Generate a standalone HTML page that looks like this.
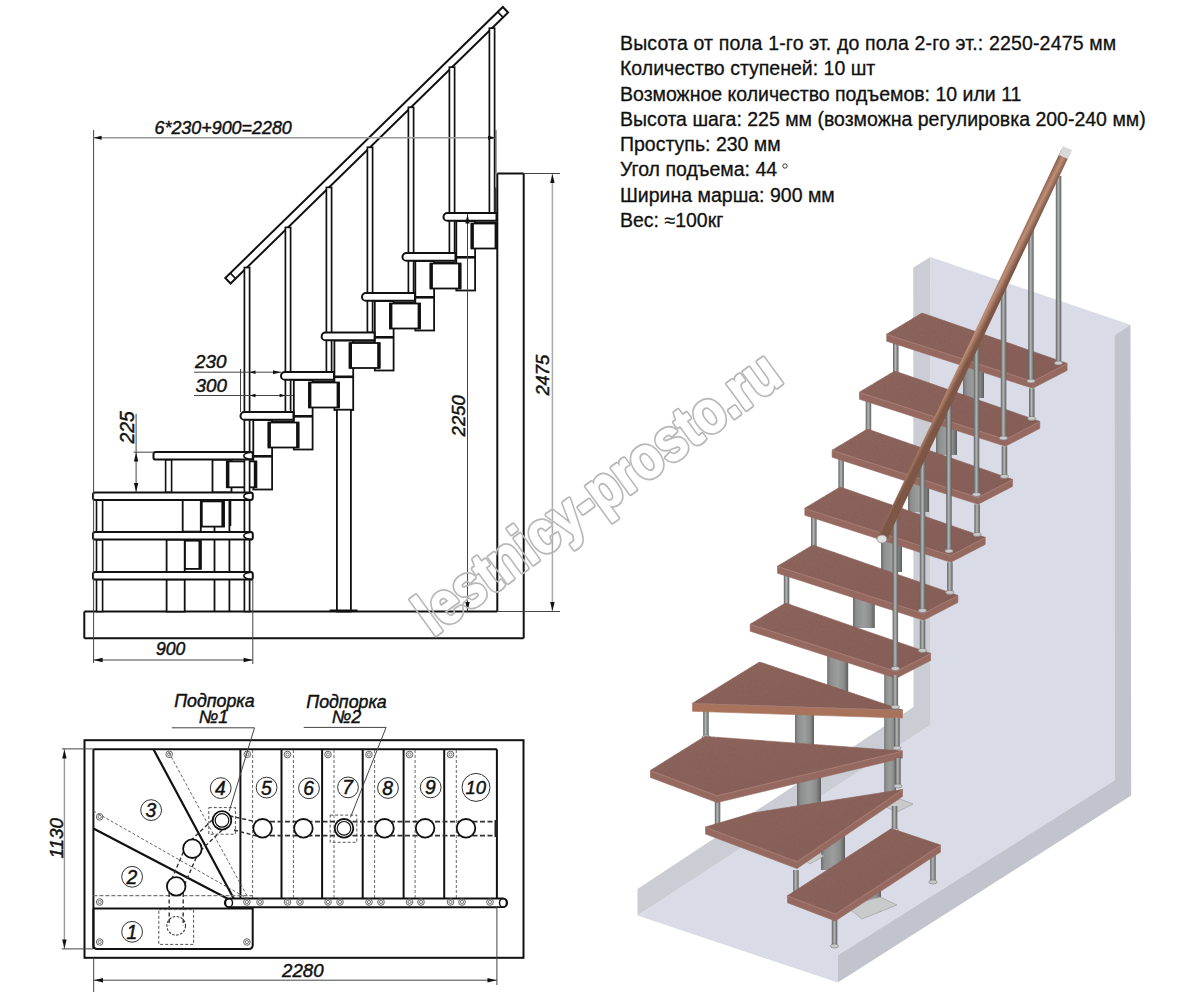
<!DOCTYPE html>
<html><head><meta charset="utf-8"><style>
html,body{margin:0;padding:0;background:#fff;overflow:hidden;width:1191px;height:993px;}
svg{display:block;}
text{font-family:"Liberation Sans",sans-serif;fill:#111;}
</style></head><body>
<svg width="1191" height="993" viewBox="0 0 1191 993">
<defs>
<linearGradient id="gcyl" x1="0" x2="1" y1="0" y2="0"><stop offset="0" stop-color="#6c6e6d"/><stop offset="0.15" stop-color="#8e908f"/><stop offset="0.5" stop-color="#9c9e9d"/><stop offset="0.8" stop-color="#8a8c8b"/><stop offset="1" stop-color="#5c5e5d"/></linearGradient>
<linearGradient id="grod" x1="0" x2="1" y1="0" y2="0"><stop offset="0" stop-color="#5c5e5e"/><stop offset="0.45" stop-color="#b5b7b7"/><stop offset="1" stop-color="#5c5e5e"/></linearGradient>
<linearGradient id="gwood" x1="0" x2="1" y1="0" y2="1"><stop offset="0" stop-color="#8f665e"/><stop offset="1" stop-color="#875e57"/></linearGradient>
<linearGradient id="ghr" gradientUnits="userSpaceOnUse" x1="1061" y1="149" x2="1071" y2="154"><stop offset="0" stop-color="#7e5646"/><stop offset="0.5" stop-color="#bf8f76"/><stop offset="1" stop-color="#7e5646"/></linearGradient>
<filter id="fwood" x="0" y="0" width="1" height="1" filterUnits="objectBoundingBox" color-interpolation-filters="sRGB">
<feTurbulence type="fractalNoise" baseFrequency="0.9 0.35" numOctaves="2" seed="3" result="n"/>
<feColorMatrix in="n" type="matrix" values="0 0 0 0 0.5  0 0 0 0 0.36  0 0 0 0 0.33  0 0 0 -1.1 0.75" result="nc"/>
<feComposite in="nc" in2="SourceGraphic" operator="in" result="nm"/>
<feMerge><feMergeNode in="SourceGraphic"/><feMergeNode in="nm"/></feMerge>
</filter>
</defs>
<rect width="1191" height="993" fill="#fff"/>
<g id="side">
<line x1="84.3" y1="611.5" x2="497.3" y2="611.5" stroke="#111" stroke-width="2" />
<line x1="84.3" y1="611.5" x2="84.3" y2="638.3" stroke="#111" stroke-width="2" />
<line x1="84.3" y1="638.3" x2="523.7" y2="638.3" stroke="#111" stroke-width="2" />
<line x1="497.3" y1="173.5" x2="497.3" y2="611.5" stroke="#111" stroke-width="2" />
<line x1="523.7" y1="173.5" x2="523.7" y2="638.3" stroke="#111" stroke-width="2" />
<line x1="497.3" y1="173.5" x2="523.7" y2="173.5" stroke="#111" stroke-width="2" />
<polygon points="230.6,283.5 508.1,12.5 502.8,7.0 225.3,278.0" fill="#fff" stroke="#111" stroke-width="2" />
<line x1="235.7" y1="278.6" x2="230.3" y2="273.1" stroke="#111" stroke-width="1.6" />
<line x1="503.1" y1="17.4" x2="497.7" y2="11.9" stroke="#111" stroke-width="1.6" />
<rect x="456.3" y="221.0" width="18.8" height="69.5" rx="0" fill="#fff" stroke="#111" stroke-width="1.8" />
<line x1="456.3" y1="257.3" x2="475.1" y2="257.3" stroke="#111" stroke-width="2.6" />
<rect x="415.3" y="261.0" width="18.8" height="69.5" rx="0" fill="#fff" stroke="#111" stroke-width="1.8" />
<line x1="415.3" y1="297.3" x2="434.1" y2="297.3" stroke="#111" stroke-width="2.6" />
<rect x="374.8" y="301.0" width="18.8" height="69.5" rx="0" fill="#fff" stroke="#111" stroke-width="1.8" />
<line x1="374.8" y1="337.3" x2="393.6" y2="337.3" stroke="#111" stroke-width="2.6" />
<rect x="334.4" y="340.5" width="18.8" height="69.5" rx="0" fill="#fff" stroke="#111" stroke-width="1.8" />
<line x1="334.4" y1="376.8" x2="353.2" y2="376.8" stroke="#111" stroke-width="2.6" />
<rect x="293.8" y="380.0" width="18.8" height="69.5" rx="0" fill="#fff" stroke="#111" stroke-width="1.8" />
<line x1="293.8" y1="416.3" x2="312.6" y2="416.3" stroke="#111" stroke-width="2.6" />
<rect x="253.3" y="420.0" width="18.8" height="69.5" rx="0" fill="#fff" stroke="#111" stroke-width="1.8" />
<line x1="253.3" y1="456.3" x2="272.1" y2="456.3" stroke="#111" stroke-width="2.6" />
<rect x="471.5" y="223.5" width="25.5" height="25.0" rx="0" fill="#fff" stroke="#111" stroke-width="1.8" />
<line x1="472.3" y1="223.5" x2="472.3" y2="248.5" stroke="#111" stroke-width="3.2" />
<line x1="496.2" y1="223.5" x2="496.2" y2="248.5" stroke="#111" stroke-width="3.2" />
<line x1="474.5" y1="222.5" x2="496.5" y2="222.5" stroke="#111" stroke-width="1.5" />
<rect x="430.5" y="263.5" width="30.0" height="25.0" rx="0" fill="#fff" stroke="#111" stroke-width="1.8" />
<line x1="431.3" y1="263.5" x2="431.3" y2="288.5" stroke="#111" stroke-width="3.2" />
<line x1="459.7" y1="263.5" x2="459.7" y2="288.5" stroke="#111" stroke-width="3.2" />
<line x1="433.5" y1="262.5" x2="455.5" y2="262.5" stroke="#111" stroke-width="1.5" />
<rect x="390.0" y="303.5" width="30.0" height="25.0" rx="0" fill="#fff" stroke="#111" stroke-width="1.8" />
<line x1="390.8" y1="303.5" x2="390.8" y2="328.5" stroke="#111" stroke-width="3.2" />
<line x1="419.2" y1="303.5" x2="419.2" y2="328.5" stroke="#111" stroke-width="3.2" />
<line x1="393.0" y1="302.5" x2="415.0" y2="302.5" stroke="#111" stroke-width="1.5" />
<rect x="349.6" y="343.0" width="30.0" height="25.0" rx="0" fill="#fff" stroke="#111" stroke-width="1.8" />
<line x1="350.4" y1="343.0" x2="350.4" y2="368.0" stroke="#111" stroke-width="3.2" />
<line x1="378.8" y1="343.0" x2="378.8" y2="368.0" stroke="#111" stroke-width="3.2" />
<line x1="352.6" y1="342.0" x2="374.6" y2="342.0" stroke="#111" stroke-width="1.5" />
<rect x="309.0" y="382.5" width="30.0" height="25.0" rx="0" fill="#fff" stroke="#111" stroke-width="1.8" />
<line x1="309.8" y1="382.5" x2="309.8" y2="407.5" stroke="#111" stroke-width="3.2" />
<line x1="338.2" y1="382.5" x2="338.2" y2="407.5" stroke="#111" stroke-width="3.2" />
<line x1="312.0" y1="381.5" x2="334.0" y2="381.5" stroke="#111" stroke-width="1.5" />
<rect x="268.5" y="422.5" width="30.0" height="25.0" rx="0" fill="#fff" stroke="#111" stroke-width="1.8" />
<line x1="269.3" y1="422.5" x2="269.3" y2="447.5" stroke="#111" stroke-width="3.2" />
<line x1="297.7" y1="422.5" x2="297.7" y2="447.5" stroke="#111" stroke-width="3.2" />
<line x1="271.5" y1="421.5" x2="293.5" y2="421.5" stroke="#111" stroke-width="1.5" />
<rect x="336.9" y="409.7" width="14.0" height="201.8" rx="0" fill="#fff" stroke="#111" stroke-width="1.8" />
<line x1="329.7" y1="610.5" x2="357.5" y2="610.5" stroke="#111" stroke-width="2" />
<line x1="214.5" y1="499.8" x2="214.5" y2="611.5" stroke="#111" stroke-width="1.8" />
<line x1="229.4" y1="499.8" x2="229.4" y2="611.5" stroke="#111" stroke-width="1.8" />
<rect x="212.5" y="459.7" width="19.0" height="32.7" rx="0" fill="#fff" stroke="#111" stroke-width="1.8" />
<rect x="226.8" y="461.4" width="29.6" height="25.9" rx="0" fill="#fff" stroke="#111" stroke-width="1.8" />
<line x1="227.8" y1="461.4" x2="227.8" y2="487.3" stroke="#111" stroke-width="3.2" />
<line x1="255.4" y1="461.4" x2="255.4" y2="487.3" stroke="#111" stroke-width="3.2" />
<rect x="182.7" y="499.8" width="18.1" height="31.8" rx="0" fill="#fff" stroke="#111" stroke-width="1.8" />
<rect x="201.8" y="501.4" width="22.2" height="25.2" rx="0" fill="#fff" stroke="#111" stroke-width="1.8" />
<line x1="223.0" y1="501.4" x2="223.0" y2="526.6" stroke="#111" stroke-width="3.2" />
<line x1="230.5" y1="499.8" x2="230.5" y2="526.0" stroke="#111" stroke-width="1.6" />
<rect x="166.6" y="539.7" width="18.1" height="32.2" rx="0" fill="#fff" stroke="#111" stroke-width="1.8" />
<rect x="185.0" y="540.7" width="15.8" height="28.2" rx="0" fill="#fff" stroke="#111" stroke-width="1.8" />
<line x1="200.0" y1="540.7" x2="200.0" y2="568.9" stroke="#111" stroke-width="3" />
<rect x="166.6" y="579.4" width="18.1" height="32.2" rx="0" fill="#fff" stroke="#111" stroke-width="1.8" />
<rect x="96.5" y="499.8" width="6.1" height="32.2" rx="0" fill="#fff" stroke="#111" stroke-width="1.6" />
<rect x="96.5" y="539.7" width="6.1" height="32.3" rx="0" fill="#fff" stroke="#111" stroke-width="1.6" />
<rect x="96.5" y="579.4" width="6.1" height="32.1" rx="0" fill="#fff" stroke="#111" stroke-width="1.6" />
<rect x="165.6" y="459.7" width="6.0" height="32.7" rx="0" fill="#fff" stroke="#111" stroke-width="1.6" />
<rect x="244.4" y="267.5" width="5.2" height="344.0" rx="0" fill="#fff" stroke="#111" stroke-width="1.7" />
<rect x="285.4" y="227.4" width="5.2" height="184.6" rx="0" fill="#fff" stroke="#111" stroke-width="1.7" />
<rect x="326.4" y="187.4" width="5.2" height="184.6" rx="0" fill="#fff" stroke="#111" stroke-width="1.7" />
<rect x="367.4" y="147.3" width="5.2" height="185.2" rx="0" fill="#fff" stroke="#111" stroke-width="1.7" />
<rect x="408.4" y="107.3" width="5.2" height="185.7" rx="0" fill="#fff" stroke="#111" stroke-width="1.7" />
<rect x="449.4" y="67.2" width="5.2" height="185.8" rx="0" fill="#fff" stroke="#111" stroke-width="1.7" />
<rect x="489.4" y="28.2" width="5.2" height="184.8" rx="0" fill="#fff" stroke="#111" stroke-width="1.7" />
<path d="M447.4 213.0 L496.5 213.0 L496.5 220.8 L447.4 220.8 A3.9 3.9 0 0 1 447.4 213.0 Z" fill="#fff" stroke="#111" stroke-width="2"/>
<path d="M406.4 253.0 L455.5 253.0 L455.5 260.8 L406.4 260.8 A3.9 3.9 0 0 1 406.4 253.0 Z" fill="#fff" stroke="#111" stroke-width="2"/>
<path d="M365.9 293.0 L415.0 293.0 L415.0 300.8 L365.9 300.8 A3.9 3.9 0 0 1 365.9 293.0 Z" fill="#fff" stroke="#111" stroke-width="2"/>
<path d="M325.5 332.5 L374.6 332.5 L374.6 340.3 L325.5 340.3 A3.9 3.9 0 0 1 325.5 332.5 Z" fill="#fff" stroke="#111" stroke-width="2"/>
<path d="M284.9 372.0 L334.0 372.0 L334.0 379.8 L284.9 379.8 A3.9 3.9 0 0 1 284.9 372.0 Z" fill="#fff" stroke="#111" stroke-width="2"/>
<path d="M244.4 412.0 L293.5 412.0 L293.5 419.8 L244.4 419.8 A3.9 3.9 0 0 1 244.4 412.0 Z" fill="#fff" stroke="#111" stroke-width="2"/>
<rect x="153.5" y="452.0" width="99.3" height="7.6" rx="2.2" fill="#fff" stroke="#111" stroke-width="2" />
<path d="M251.5 452.2 A10 3.7 0 0 0 251.5 459.4" fill="none" stroke="#111" stroke-width="1.6"/>
<rect x="93.0" y="492.4" width="159.8" height="7.6" rx="2.2" fill="#fff" stroke="#111" stroke-width="2" />
<path d="M251.5 492.6 A10 3.7 0 0 0 251.5 499.8" fill="none" stroke="#111" stroke-width="1.6"/>
<rect x="93.0" y="532.0" width="159.8" height="7.6" rx="2.2" fill="#fff" stroke="#111" stroke-width="2" />
<path d="M251.5 532.2 A10 3.7 0 0 0 251.5 539.4" fill="none" stroke="#111" stroke-width="1.6"/>
<rect x="93.0" y="572.0" width="159.8" height="7.6" rx="2.2" fill="#fff" stroke="#111" stroke-width="2" />
<path d="M251.5 572.2 A10 3.7 0 0 0 251.5 579.4" fill="none" stroke="#111" stroke-width="1.6"/>
<rect x="494.3" y="187.7" width="2.2" height="24.3" rx="0" fill="#333" stroke="#111" stroke-width="0" />
<line x1="93.6" y1="130.0" x2="93.6" y2="663.0" stroke="#444" stroke-width="1" />
<line x1="93.6" y1="137.8" x2="496.0" y2="137.8" stroke="#999" stroke-width="1.4" />
<polygon points="93.6,137.8 101.6,135.8 101.6,139.8" fill="#111" stroke="none" stroke-width="1" />
<polygon points="496.0,137.8 488.0,139.8 488.0,135.8" fill="#111" stroke="none" stroke-width="1" />
<line x1="496.0" y1="130.0" x2="496.0" y2="173.5" stroke="#444" stroke-width="1" />
<text x="154.5" y="133.6" font-size="17.9" text-anchor="start" style="font-style:italic;stroke:#111;stroke-width:0.45;"  >6*230+900=2280</text>
<line x1="467.5" y1="214.0" x2="467.5" y2="611.5" stroke="#444" stroke-width="1" />
<polygon points="467.5,214.5 469.7,223.5 465.3,223.5" fill="#111" stroke="none" stroke-width="1" />
<polygon points="467.5,611.0 465.3,602.0 469.7,602.0" fill="#111" stroke="none" stroke-width="1" />
<text x="464.8" y="436.4" font-size="18.5" text-anchor="start" style="font-style:italic;stroke:#111;stroke-width:0.45;" transform="rotate(-90 464.8 436.4)" >2250</text>
<line x1="552.4" y1="173.6" x2="552.4" y2="611.5" stroke="#aaa" stroke-width="1.5" />
<polygon points="552.4,174.0 554.6,183.0 550.2,183.0" fill="#111" stroke="none" stroke-width="1" />
<polygon points="552.4,611.0 550.2,602.0 554.6,602.0" fill="#111" stroke="none" stroke-width="1" />
<line x1="524.0" y1="173.5" x2="560.0" y2="173.5" stroke="#444" stroke-width="1" />
<line x1="497.3" y1="611.5" x2="560.0" y2="611.5" stroke="#444" stroke-width="1" />
<text x="549.3" y="395.6" font-size="18.4" text-anchor="start" style="font-style:italic;stroke:#111;stroke-width:0.45;" transform="rotate(-90 549.3 395.6)" >2475</text>
<line x1="252.8" y1="580.0" x2="252.8" y2="664.0" stroke="#444" stroke-width="1" />
<line x1="93.4" y1="660.0" x2="252.6" y2="660.0" stroke="#444" stroke-width="1" />
<polygon points="93.6,660.0 102.6,657.8 102.6,662.2" fill="#111" stroke="none" stroke-width="1" />
<polygon points="252.6,660.0 243.6,662.2 243.6,657.8" fill="#111" stroke="none" stroke-width="1" />
<text x="156.0" y="655.4" font-size="17.6" text-anchor="start" style="font-style:italic;stroke:#111;stroke-width:0.45;"  >900</text>
<line x1="194.0" y1="372.2" x2="281.6" y2="372.2" stroke="#444" stroke-width="1" />
<polygon points="281.0,372.2 273.0,374.2 273.0,370.2" fill="#111" stroke="none" stroke-width="1" />
<polygon points="249.5,372.2 255.5,370.4 255.5,374.0" fill="#111" stroke="none" stroke-width="1" />
<line x1="194.0" y1="395.5" x2="293.0" y2="395.5" stroke="#444" stroke-width="1" />
<polygon points="249.5,395.5 255.5,393.7 255.5,397.3" fill="#111" stroke="none" stroke-width="1" />
<polygon points="285.6,395.5 279.6,397.3 279.6,393.7" fill="#111" stroke="none" stroke-width="1" />
<line x1="240.5" y1="369.0" x2="240.5" y2="412.0" stroke="#444" stroke-width="1" />
<text x="195.0" y="367.8" font-size="18.8" text-anchor="start" style="font-style:italic;stroke:#111;stroke-width:0.45;"  >230</text>
<text x="195.5" y="391.6" font-size="18.8" text-anchor="start" style="font-style:italic;stroke:#111;stroke-width:0.45;"  >300</text>
<line x1="136.1" y1="413.9" x2="136.1" y2="492.4" stroke="#444" stroke-width="1" />
<polygon points="136.1,452.4 138.3,461.4 133.9,461.4" fill="#111" stroke="none" stroke-width="1" />
<polygon points="136.1,492.0 133.9,483.0 138.3,483.0" fill="#111" stroke="none" stroke-width="1" />
<line x1="133.6" y1="452.2" x2="153.7" y2="452.2" stroke="#444" stroke-width="1" />
<text x="133.6" y="443.5" font-size="19.3" text-anchor="start" style="font-style:italic;stroke:#111;stroke-width:0.45;" transform="rotate(-90 133.6 443.5)" >225</text>
</g>
<g id="plan">
<rect x="84.5" y="740.2" width="439.0" height="217.6" rx="0" fill="none" stroke="#111" stroke-width="2" />
<line x1="93.4" y1="749.3" x2="496.9" y2="749.3" stroke="#111" stroke-width="2" />
<line x1="93.4" y1="749.3" x2="93.4" y2="949.0" stroke="#111" stroke-width="2" />
<path d="M93.4 908.4 L93.4 945 Q93.4 949 97.4 949 L248.7 949 Q252.7 949 252.7 945 L252.7 907" fill="none" stroke="#111" stroke-width="2"/>
<line x1="93.4" y1="908.4" x2="252.7" y2="908.4" stroke="#111" stroke-width="2" />
<line x1="496.9" y1="749.3" x2="496.9" y2="907.2" stroke="#111" stroke-width="2" />
<line x1="252.7" y1="907.2" x2="496.9" y2="907.2" stroke="#111" stroke-width="2" />
<line x1="93.4" y1="828.5" x2="233.0" y2="901.5" stroke="#111" stroke-width="2.2" />
<line x1="153.7" y1="749.7" x2="235.3" y2="901.5" stroke="#111" stroke-width="2.2" />
<line x1="240.4" y1="749.3" x2="240.4" y2="907.2" stroke="#111" stroke-width="2" />
<line x1="281.5" y1="749.3" x2="281.5" y2="907.2" stroke="#111" stroke-width="2" />
<line x1="322.1" y1="749.3" x2="322.1" y2="907.2" stroke="#111" stroke-width="2" />
<line x1="362.7" y1="749.3" x2="362.7" y2="907.2" stroke="#111" stroke-width="2" />
<line x1="403.6" y1="749.3" x2="403.6" y2="907.2" stroke="#111" stroke-width="2" />
<line x1="444.2" y1="749.3" x2="444.2" y2="907.2" stroke="#111" stroke-width="2" />
<line x1="252.6" y1="750.0" x2="252.6" y2="906.0" stroke="#555" stroke-width="0.9" stroke-dasharray="3,2"/>
<line x1="293.4" y1="750.0" x2="293.4" y2="906.0" stroke="#555" stroke-width="0.9" stroke-dasharray="3,2"/>
<line x1="334.0" y1="750.0" x2="334.0" y2="906.0" stroke="#555" stroke-width="0.9" stroke-dasharray="3,2"/>
<line x1="374.6" y1="750.0" x2="374.6" y2="906.0" stroke="#555" stroke-width="0.9" stroke-dasharray="3,2"/>
<line x1="415.1" y1="750.0" x2="415.1" y2="906.0" stroke="#555" stroke-width="0.9" stroke-dasharray="3,2"/>
<line x1="456.3" y1="750.0" x2="456.3" y2="906.0" stroke="#555" stroke-width="0.9" stroke-dasharray="3,2"/>
<line x1="168.9" y1="752.5" x2="252.0" y2="905.0" stroke="#555" stroke-width="0.9" stroke-dasharray="3,2"/>
<line x1="93.4" y1="811.0" x2="250.0" y2="900.0" stroke="#555" stroke-width="0.9" stroke-dasharray="3,2"/>
<line x1="93.4" y1="895.7" x2="252.6" y2="895.7" stroke="#777" stroke-width="1.3" stroke-dasharray="4,2"/>
<line x1="255.0" y1="821.6" x2="496.9" y2="821.6" stroke="#333" stroke-width="1.6" stroke-dasharray="5,2.5"/>
<line x1="255.0" y1="835.6" x2="496.9" y2="835.6" stroke="#333" stroke-width="1.6" stroke-dasharray="5,2.5"/>
<line x1="229.5" y1="815.8" x2="255.0" y2="821.6" stroke="#333" stroke-width="1.5" stroke-dasharray="4,2.5"/>
<line x1="234.0" y1="830.0" x2="255.0" y2="835.6" stroke="#333" stroke-width="1.5" stroke-dasharray="4,2.5"/>
<rect x="494.5" y="820" width="3" height="17" fill="#222"/>
<line x1="226.8" y1="825.5" x2="197.2" y2="853.8" stroke="#333" stroke-width="1.4" stroke-dasharray="4,2.5"/>
<line x1="217.2" y1="815.3" x2="187.6" y2="843.6" stroke="#333" stroke-width="1.4" stroke-dasharray="4,2.5"/>
<line x1="198.8" y1="851.5" x2="182.6" y2="889.2" stroke="#333" stroke-width="1.4" stroke-dasharray="4,2.5"/>
<line x1="186.0" y1="845.9" x2="169.8" y2="883.6" stroke="#333" stroke-width="1.4" stroke-dasharray="4,2.5"/>
<line x1="183.2" y1="886.4" x2="183.2" y2="925.8" stroke="#333" stroke-width="1.4" stroke-dasharray="4,2.5"/>
<line x1="169.2" y1="886.4" x2="169.2" y2="925.8" stroke="#333" stroke-width="1.4" stroke-dasharray="4,2.5"/>
<circle cx="262.6" cy="828.3" r="9.3" fill="#fff" stroke="#111" stroke-width="1.8" />
<circle cx="303.4" cy="828.3" r="9.3" fill="#fff" stroke="#111" stroke-width="1.8" />
<circle cx="384.5" cy="828.3" r="9.3" fill="#fff" stroke="#111" stroke-width="1.8" />
<circle cx="425.1" cy="828.3" r="9.3" fill="#fff" stroke="#111" stroke-width="1.8" />
<circle cx="466.0" cy="828.3" r="9.3" fill="#fff" stroke="#111" stroke-width="1.8" />
<circle cx="344.0" cy="828.3" r="9.3" fill="#fff" stroke="#111" stroke-width="1.8" />
<circle cx="344.0" cy="828.3" r="6.8" fill="none" stroke="#111" stroke-width="1.2" />
<circle cx="222.0" cy="820.4" r="9.3" fill="#fff" stroke="#111" stroke-width="1.8" />
<circle cx="222.0" cy="820.4" r="6.8" fill="none" stroke="#111" stroke-width="1.2" />
<circle cx="192.4" cy="848.7" r="9.3" fill="#fff" stroke="#111" stroke-width="1.8" />
<circle cx="176.2" cy="886.4" r="9.3" fill="#fff" stroke="#111" stroke-width="1.8" />
<circle cx="176.2" cy="925.8" r="9.3" fill="none" stroke="#333" stroke-width="1.1" stroke-dasharray="2.5,1.5"/>
<rect x="208.8" y="807.6" width="26.6" height="26.6" rx="0" fill="none" stroke="#555" stroke-width="1" stroke-dasharray="3,2"/>
<rect x="330.2" y="815.1" width="26.6" height="27.2" rx="0" fill="none" stroke="#555" stroke-width="1" stroke-dasharray="3,2"/>
<rect x="158.8" y="909.6" width="34.8" height="34.8" rx="0" fill="none" stroke="#555" stroke-width="1" stroke-dasharray="3,2"/>
<rect x="224.8" y="898.5" width="282.4" height="8.7" rx="4.3" fill="#fff" stroke="#111" stroke-width="1.8"/>
<ellipse cx="503" cy="902.85" rx="3.5" ry="4.3" fill="none" stroke="#111" stroke-width="1.4"/>
<ellipse cx="229" cy="902.85" rx="3.5" ry="4.3" fill="none" stroke="#111" stroke-width="1.4"/>
<circle cx="99.7" cy="902.0" r="3.3" fill="none" stroke="#555" stroke-width="0.9" />
<circle cx="99.7" cy="902.0" r="1.6" fill="none" stroke="#555" stroke-width="0.8" />
<circle cx="99.7" cy="942.0" r="3.3" fill="none" stroke="#555" stroke-width="0.9" />
<circle cx="99.7" cy="942.0" r="1.6" fill="none" stroke="#555" stroke-width="0.8" />
<circle cx="246.9" cy="942.0" r="3.3" fill="none" stroke="#555" stroke-width="0.9" />
<circle cx="246.9" cy="942.0" r="1.6" fill="none" stroke="#555" stroke-width="0.8" />
<circle cx="169.2" cy="754.3" r="3.3" fill="none" stroke="#555" stroke-width="0.9" />
<circle cx="169.2" cy="754.3" r="1.6" fill="none" stroke="#555" stroke-width="0.8" />
<circle cx="99.7" cy="816.9" r="3.3" fill="none" stroke="#555" stroke-width="0.9" />
<circle cx="99.7" cy="816.9" r="1.6" fill="none" stroke="#555" stroke-width="0.8" />
<circle cx="247.3" cy="754.3" r="3.3" fill="none" stroke="#555" stroke-width="0.9" />
<circle cx="247.3" cy="754.3" r="1.6" fill="none" stroke="#555" stroke-width="0.8" />
<circle cx="246.9" cy="902.0" r="3.3" fill="none" stroke="#555" stroke-width="0.9" />
<circle cx="246.9" cy="902.0" r="1.6" fill="none" stroke="#555" stroke-width="0.8" />
<circle cx="287.5" cy="754.5" r="3.3" fill="none" stroke="#555" stroke-width="0.9" />
<circle cx="287.5" cy="754.5" r="1.6" fill="none" stroke="#555" stroke-width="0.8" />
<circle cx="287.5" cy="902.0" r="3.3" fill="none" stroke="#555" stroke-width="0.9" />
<circle cx="287.5" cy="902.0" r="1.6" fill="none" stroke="#555" stroke-width="0.8" />
<circle cx="328.0" cy="754.5" r="3.3" fill="none" stroke="#555" stroke-width="0.9" />
<circle cx="328.0" cy="754.5" r="1.6" fill="none" stroke="#555" stroke-width="0.8" />
<circle cx="328.0" cy="902.0" r="3.3" fill="none" stroke="#555" stroke-width="0.9" />
<circle cx="328.0" cy="902.0" r="1.6" fill="none" stroke="#555" stroke-width="0.8" />
<circle cx="369.0" cy="754.5" r="3.3" fill="none" stroke="#555" stroke-width="0.9" />
<circle cx="369.0" cy="754.5" r="1.6" fill="none" stroke="#555" stroke-width="0.8" />
<circle cx="369.0" cy="902.0" r="3.3" fill="none" stroke="#555" stroke-width="0.9" />
<circle cx="369.0" cy="902.0" r="1.6" fill="none" stroke="#555" stroke-width="0.8" />
<circle cx="409.5" cy="754.5" r="3.3" fill="none" stroke="#555" stroke-width="0.9" />
<circle cx="409.5" cy="754.5" r="1.6" fill="none" stroke="#555" stroke-width="0.8" />
<circle cx="409.5" cy="902.0" r="3.3" fill="none" stroke="#555" stroke-width="0.9" />
<circle cx="409.5" cy="902.0" r="1.6" fill="none" stroke="#555" stroke-width="0.8" />
<circle cx="450.5" cy="754.5" r="3.3" fill="none" stroke="#555" stroke-width="0.9" />
<circle cx="450.5" cy="754.5" r="1.6" fill="none" stroke="#555" stroke-width="0.8" />
<circle cx="450.5" cy="902.0" r="3.3" fill="none" stroke="#555" stroke-width="0.9" />
<circle cx="450.5" cy="902.0" r="1.6" fill="none" stroke="#555" stroke-width="0.8" />
<circle cx="260.0" cy="902.0" r="3.3" fill="none" stroke="#555" stroke-width="0.9" />
<circle cx="260.0" cy="902.0" r="1.6" fill="none" stroke="#555" stroke-width="0.8" />
<circle cx="300.0" cy="902.0" r="3.3" fill="none" stroke="#555" stroke-width="0.9" />
<circle cx="300.0" cy="902.0" r="1.6" fill="none" stroke="#555" stroke-width="0.8" />
<circle cx="340.0" cy="902.0" r="3.3" fill="none" stroke="#555" stroke-width="0.9" />
<circle cx="340.0" cy="902.0" r="1.6" fill="none" stroke="#555" stroke-width="0.8" />
<circle cx="381.0" cy="902.0" r="3.3" fill="none" stroke="#555" stroke-width="0.9" />
<circle cx="381.0" cy="902.0" r="1.6" fill="none" stroke="#555" stroke-width="0.8" />
<circle cx="421.0" cy="902.0" r="3.3" fill="none" stroke="#555" stroke-width="0.9" />
<circle cx="421.0" cy="902.0" r="1.6" fill="none" stroke="#555" stroke-width="0.8" />
<circle cx="462.0" cy="902.0" r="3.3" fill="none" stroke="#555" stroke-width="0.9" />
<circle cx="462.0" cy="902.0" r="1.6" fill="none" stroke="#555" stroke-width="0.8" />
<circle cx="490.0" cy="902.0" r="3.3" fill="none" stroke="#555" stroke-width="0.9" />
<circle cx="490.0" cy="902.0" r="1.6" fill="none" stroke="#555" stroke-width="0.8" />
<circle cx="132.1" cy="931.8" r="10.4" fill="#fff" stroke="#333" stroke-width="1.0" />
<text x="131.8" y="938.8" font-size="19.3" text-anchor="middle" style="font-style:italic;stroke:#111;stroke-width:0.45;"  >1</text>
<circle cx="132.1" cy="876.8" r="10.4" fill="#fff" stroke="#333" stroke-width="1.0" />
<text x="131.8" y="883.8" font-size="19.3" text-anchor="middle" style="font-style:italic;stroke:#111;stroke-width:0.45;"  >2</text>
<circle cx="151.1" cy="810.1" r="10.4" fill="#fff" stroke="#333" stroke-width="1.0" />
<text x="150.8" y="817.1" font-size="19.3" text-anchor="middle" style="font-style:italic;stroke:#111;stroke-width:0.45;"  >3</text>
<circle cx="220.7" cy="788.1" r="10.4" fill="#fff" stroke="#333" stroke-width="1.0" />
<text x="220.4" y="795.1" font-size="19.3" text-anchor="middle" style="font-style:italic;stroke:#111;stroke-width:0.45;"  >4</text>
<circle cx="266.6" cy="787.6" r="10.4" fill="#fff" stroke="#333" stroke-width="1.0" />
<text x="266.3" y="794.6" font-size="19.3" text-anchor="middle" style="font-style:italic;stroke:#111;stroke-width:0.45;"  >5</text>
<circle cx="309.0" cy="788.3" r="10.4" fill="#fff" stroke="#333" stroke-width="1.0" />
<text x="308.7" y="795.3" font-size="19.3" text-anchor="middle" style="font-style:italic;stroke:#111;stroke-width:0.45;"  >6</text>
<circle cx="348.0" cy="787.4" r="10.4" fill="#fff" stroke="#333" stroke-width="1.0" />
<text x="347.7" y="794.4" font-size="19.3" text-anchor="middle" style="font-style:italic;stroke:#111;stroke-width:0.45;"  >7</text>
<circle cx="388.0" cy="788.0" r="10.4" fill="#fff" stroke="#333" stroke-width="1.0" />
<text x="387.7" y="795.0" font-size="19.3" text-anchor="middle" style="font-style:italic;stroke:#111;stroke-width:0.45;"  >8</text>
<circle cx="430.7" cy="787.4" r="10.4" fill="#fff" stroke="#333" stroke-width="1.0" />
<text x="430.4" y="794.4" font-size="19.3" text-anchor="middle" style="font-style:italic;stroke:#111;stroke-width:0.45;"  >9</text>
<circle cx="476.0" cy="787.4" r="14.0" fill="#fff" stroke="#333" stroke-width="1.0" />
<text x="475.7" y="794.4" font-size="18.5" text-anchor="middle" style="font-style:italic;stroke:#111;stroke-width:0.45;"  >10</text>
<line x1="171.9" y1="727.8" x2="254.5" y2="727.8" stroke="#444" stroke-width="1" />
<line x1="254.5" y1="727.8" x2="229.3" y2="811.0" stroke="#444" stroke-width="1" />
<line x1="303.7" y1="727.4" x2="386.1" y2="727.4" stroke="#444" stroke-width="1" />
<line x1="386.1" y1="727.4" x2="350.5" y2="817.3" stroke="#444" stroke-width="1" />
<text x="214.4" y="706.8" font-size="17.8" text-anchor="middle" style="font-style:italic;stroke:#111;stroke-width:0.45;"  >Подпорка</text>
<text x="213.6" y="722.7" font-size="18" text-anchor="middle" style="font-style:italic;stroke:#111;stroke-width:0.45;"  >№1</text>
<text x="346.5" y="707.5" font-size="17.8" text-anchor="middle" style="font-style:italic;stroke:#111;stroke-width:0.45;"  >Подпорка</text>
<text x="346.5" y="723.0" font-size="18" text-anchor="middle" style="font-style:italic;stroke:#111;stroke-width:0.45;"  >№2</text>
<line x1="64.4" y1="748.9" x2="64.4" y2="948.9" stroke="#999" stroke-width="1.4" />
<polygon points="64.4,749.5 66.6,758.5 62.2,758.5" fill="#111" stroke="none" stroke-width="1" />
<polygon points="64.4,948.5 62.2,939.5 66.6,939.5" fill="#111" stroke="none" stroke-width="1" />
<line x1="61.8" y1="748.9" x2="93.4" y2="748.9" stroke="#444" stroke-width="1" />
<line x1="61.8" y1="948.9" x2="93.4" y2="948.9" stroke="#444" stroke-width="1" />
<text x="63.1" y="858.5" font-size="18.8" text-anchor="start" style="font-style:italic;stroke:#111;stroke-width:0.45;" transform="rotate(-90 63.1 858.5)" >1130</text>
<line x1="93.7" y1="957.8" x2="93.7" y2="992.0" stroke="#444" stroke-width="1" />
<line x1="496.9" y1="907.0" x2="496.9" y2="985.0" stroke="#444" stroke-width="1" />
<line x1="93.7" y1="980.2" x2="496.9" y2="980.2" stroke="#444" stroke-width="1" />
<polygon points="94.0,980.2 103.0,978.0 103.0,982.4" fill="#111" stroke="none" stroke-width="1" />
<polygon points="496.5,980.2 487.5,982.4 487.5,978.0" fill="#111" stroke="none" stroke-width="1" />
<text x="282.0" y="977.2" font-size="18.7" text-anchor="start" style="font-style:italic;stroke:#111;stroke-width:0.45;"  >2280</text>
</g>
<g id="scene3d">
<polygon points="930.3,257.1 1130.5,324.7 1114.4,335.3 1114.7,780.3 837.8,955.3 837.8,982.6 637.5,915.5 930.6,725.0" fill="#d9dbe6" stroke="none" stroke-width="1" />
<polygon points="1114.4,335.3 1130.5,324.7 1131.2,795.6 837.8,982.6 837.8,955.3 1114.7,780.3" fill="#c2c4cd" stroke="none" stroke-width="1" />
<polygon points="913.2,267.7 930.3,257.1 930.6,725.0 637.5,915.5 637.5,889.0 913.5,707.0" fill="#cbcdd4" stroke="none" stroke-width="1" />
<rect x="963.0" y="341.0" width="21.0" height="57.0" fill="url(#gcyl)"/>
<rect x="936.0" y="399.0" width="21.0" height="56.0" fill="url(#gcyl)"/>
<rect x="908.0" y="456.0" width="21.0" height="56.0" fill="url(#gcyl)"/>
<rect x="881.0" y="513.0" width="21.0" height="59.0" fill="url(#gcyl)"/>
<rect x="853.0" y="570.0" width="21.8" height="58.0" fill="url(#gcyl)"/>
<rect x="827.2" y="628.0" width="21.0" height="64.0" fill="url(#gcyl)"/>
<rect x="884.2" y="655.0" width="11.8" height="151.0" fill="url(#gcyl)"/>
<rect x="795.0" y="700.0" width="19.0" height="45.0" fill="url(#gcyl)"/>
<rect x="797.0" y="770.0" width="24.0" height="70.0" fill="url(#gcyl)"/>
<rect x="821.0" y="822.0" width="24.0" height="48.0" fill="url(#gcyl)"/>
<rect x="860.0" y="880.0" width="21.0" height="32.0" fill="url(#gcyl)"/>
<polygon points="846.0,906.0 880.0,897.0 897.0,905.0 862.0,919.0" fill="#c9cbcb" stroke="#999" stroke-width="0.6" />
<polygon points="884.0,806.0 900.0,799.0 913.0,804.0 897.0,812.0" fill="#c9cbcb" stroke="#999" stroke-width="0.6" />
<polygon points="802.0,858.0 815.0,851.0 824.0,856.0 810.0,864.0" fill="#c9cbcb" stroke="#999" stroke-width="0.6" />
<rect x="893.0" y="341.2" width="5.5" height="37.8" fill="url(#grod)"/>
<ellipse cx="895.7" cy="379.0" rx="4.1" ry="2" fill="#c9cbcb" stroke="#777" stroke-width="0.6"/>
<polygon points="886.7,334.2 1032.7,381.3 1032.7,388.3 886.7,341.2" fill="#95695f" stroke="#95695f" stroke-width="0.6" />
<polygon points="1032.7,381.3 1067.1,363.4 1067.1,370.4 1032.7,388.3" fill="#95695f" stroke="#95695f" stroke-width="0.6" />
<polygon points="886.7,334.2 922.0,313.0 1067.1,363.4 1032.7,381.3" fill="url(#gwood)" stroke="url(#gwood)" stroke-width="0.6" filter="url(#fwood)"/>
<line x1="886.7" y1="334.5" x2="1032.7" y2="381.6" stroke="#a97f76" stroke-width="0.9" />
<line x1="1032.7" y1="381.6" x2="1067.1" y2="363.7" stroke="#a97f76" stroke-width="0.9" />
<rect x="865.7" y="399.2" width="5.5" height="37.8" fill="url(#grod)"/>
<ellipse cx="868.4" cy="437.0" rx="4.1" ry="2" fill="#c9cbcb" stroke="#777" stroke-width="0.6"/>
<polygon points="859.4,392.2 1005.4,439.3 1005.4,446.3 859.4,399.2" fill="#95695f" stroke="#95695f" stroke-width="0.6" />
<polygon points="1005.4,439.3 1039.8,421.4 1039.8,428.4 1005.4,446.3" fill="#95695f" stroke="#95695f" stroke-width="0.6" />
<polygon points="859.4,392.2 894.7,371.0 1039.8,421.4 1005.4,439.3" fill="url(#gwood)" stroke="url(#gwood)" stroke-width="0.6" filter="url(#fwood)"/>
<line x1="859.4" y1="392.5" x2="1005.4" y2="439.6" stroke="#a97f76" stroke-width="0.9" />
<line x1="1005.4" y1="439.6" x2="1039.8" y2="421.7" stroke="#a97f76" stroke-width="0.9" />
<rect x="838.4" y="457.2" width="5.5" height="37.8" fill="url(#grod)"/>
<ellipse cx="841.1" cy="495.0" rx="4.1" ry="2" fill="#c9cbcb" stroke="#777" stroke-width="0.6"/>
<polygon points="832.1,450.2 978.1,497.3 978.1,504.3 832.1,457.2" fill="#95695f" stroke="#95695f" stroke-width="0.6" />
<polygon points="978.1,497.3 1012.5,479.4 1012.5,486.4 978.1,504.3" fill="#95695f" stroke="#95695f" stroke-width="0.6" />
<polygon points="832.1,450.2 867.4,429.0 1012.5,479.4 978.1,497.3" fill="url(#gwood)" stroke="url(#gwood)" stroke-width="0.6" filter="url(#fwood)"/>
<line x1="832.1" y1="450.5" x2="978.1" y2="497.6" stroke="#a97f76" stroke-width="0.9" />
<line x1="978.1" y1="497.6" x2="1012.5" y2="479.7" stroke="#a97f76" stroke-width="0.9" />
<rect x="811.1" y="515.2" width="5.5" height="37.8" fill="url(#grod)"/>
<ellipse cx="813.8" cy="553.0" rx="4.1" ry="2" fill="#c9cbcb" stroke="#777" stroke-width="0.6"/>
<polygon points="804.8,508.2 950.8,555.3 950.8,562.3 804.8,515.2" fill="#95695f" stroke="#95695f" stroke-width="0.6" />
<polygon points="950.8,555.3 985.2,537.4 985.2,544.4 950.8,562.3" fill="#95695f" stroke="#95695f" stroke-width="0.6" />
<polygon points="804.8,508.2 840.1,487.0 985.2,537.4 950.8,555.3" fill="url(#gwood)" stroke="url(#gwood)" stroke-width="0.6" filter="url(#fwood)"/>
<line x1="804.8" y1="508.5" x2="950.8" y2="555.6" stroke="#a97f76" stroke-width="0.9" />
<line x1="950.8" y1="555.6" x2="985.2" y2="537.7" stroke="#a97f76" stroke-width="0.9" />
<rect x="783.8" y="573.2" width="5.5" height="37.8" fill="url(#grod)"/>
<ellipse cx="786.5" cy="611.0" rx="4.1" ry="2" fill="#c9cbcb" stroke="#777" stroke-width="0.6"/>
<polygon points="777.5,566.2 923.5,613.3 923.5,620.3 777.5,573.2" fill="#95695f" stroke="#95695f" stroke-width="0.6" />
<polygon points="923.5,613.3 957.9,595.4 957.9,602.4 923.5,620.3" fill="#95695f" stroke="#95695f" stroke-width="0.6" />
<polygon points="777.5,566.2 812.8,545.0 957.9,595.4 923.5,613.3" fill="url(#gwood)" stroke="url(#gwood)" stroke-width="0.6" filter="url(#fwood)"/>
<line x1="777.5" y1="566.5" x2="923.5" y2="613.6" stroke="#a97f76" stroke-width="0.9" />
<line x1="923.5" y1="613.6" x2="957.9" y2="595.7" stroke="#a97f76" stroke-width="0.9" />
<polygon points="750.2,624.2 896.2,671.3 896.2,678.3 750.2,631.2" fill="#95695f" stroke="#95695f" stroke-width="0.6" />
<polygon points="896.2,671.3 930.6,653.4 930.6,660.4 896.2,678.3" fill="#95695f" stroke="#95695f" stroke-width="0.6" />
<polygon points="750.2,624.2 785.5,603.0 930.6,653.4 896.2,671.3" fill="url(#gwood)" stroke="url(#gwood)" stroke-width="0.6" filter="url(#fwood)"/>
<line x1="750.2" y1="624.5" x2="896.2" y2="671.6" stroke="#a97f76" stroke-width="0.9" />
<line x1="896.2" y1="671.6" x2="930.6" y2="653.7" stroke="#a97f76" stroke-width="0.9" />
<rect x="703.2" y="709.0" width="5.5" height="28.0" fill="url(#grod)"/>
<ellipse cx="706.0" cy="737.0" rx="4.1" ry="2" fill="#c9cbcb" stroke="#777" stroke-width="0.6"/>
<polygon points="692.5,703.3 902.5,710.1 902.5,718.1 692.5,711.3" fill="#a8735a" stroke="#a8735a" stroke-width="0.6" />
<polygon points="692.5,703.3 759.5,662.0 902.5,710.1" fill="url(#gwood)" stroke="url(#gwood)" stroke-width="0.6" filter="url(#fwood)"/>
<line x1="692.5" y1="703.6" x2="902.5" y2="710.4" stroke="#a97f76" stroke-width="0.9" />
<rect x="714.8" y="797.0" width="5.5" height="29.0" fill="url(#grod)"/>
<ellipse cx="717.5" cy="826.0" rx="4.1" ry="2" fill="#c9cbcb" stroke="#777" stroke-width="0.6"/>
<polygon points="650.4,770.4 717.1,795.6 717.1,802.6 650.4,777.4" fill="#95695f" stroke="#95695f" stroke-width="0.6" />
<polygon points="717.1,795.6 902.4,751.0 902.4,758.0 717.1,802.6" fill="#95695f" stroke="#95695f" stroke-width="0.6" />
<polygon points="650.4,770.4 704.8,736.4 902.4,751.0 717.1,795.6" fill="url(#gwood)" stroke="url(#gwood)" stroke-width="0.6" filter="url(#fwood)"/>
<line x1="650.4" y1="770.7" x2="717.1" y2="795.9" stroke="#a97f76" stroke-width="0.9" />
<line x1="717.1" y1="795.9" x2="902.4" y2="751.3" stroke="#a97f76" stroke-width="0.9" />
<rect x="793.2" y="870.0" width="5.5" height="30.0" fill="url(#grod)"/>
<ellipse cx="796.0" cy="900.0" rx="4.1" ry="2" fill="#c9cbcb" stroke="#777" stroke-width="0.6"/>
<rect x="891.8" y="806.0" width="5.5" height="24.0" fill="url(#grod)"/>
<ellipse cx="894.5" cy="830.0" rx="4.1" ry="2" fill="#c9cbcb" stroke="#777" stroke-width="0.6"/>
<polygon points="705.5,827.0 797.0,861.6 797.0,868.6 705.5,834.0" fill="#95695f" stroke="#95695f" stroke-width="0.6" />
<polygon points="797.0,861.6 902.5,789.5 902.5,796.5 797.0,868.6" fill="#95695f" stroke="#95695f" stroke-width="0.6" />
<polygon points="705.5,827.0 753.6,812.8 902.5,789.5 797.0,861.6" fill="url(#gwood)" stroke="url(#gwood)" stroke-width="0.6" filter="url(#fwood)"/>
<line x1="705.5" y1="827.3" x2="797.0" y2="861.9" stroke="#a97f76" stroke-width="0.9" />
<line x1="797.0" y1="861.9" x2="902.5" y2="789.8" stroke="#a97f76" stroke-width="0.9" />
<rect x="831.8" y="920.0" width="5.5" height="26.0" fill="url(#grod)"/>
<ellipse cx="834.5" cy="946.0" rx="4.1" ry="2" fill="#c9cbcb" stroke="#777" stroke-width="0.6"/>
<rect x="930.2" y="851.0" width="5.5" height="31.0" fill="url(#grod)"/>
<ellipse cx="933.0" cy="882.0" rx="4.1" ry="2" fill="#c9cbcb" stroke="#777" stroke-width="0.6"/>
<polygon points="787.5,895.7 835.3,914.0 835.3,921.0 787.5,902.7" fill="#95695f" stroke="#95695f" stroke-width="0.6" />
<polygon points="835.3,914.0 940.5,845.1 940.5,852.1 835.3,921.0" fill="#95695f" stroke="#95695f" stroke-width="0.6" />
<polygon points="787.5,895.7 891.5,828.6 940.5,845.1 835.3,914.0" fill="url(#gwood)" stroke="url(#gwood)" stroke-width="0.6" filter="url(#fwood)"/>
<line x1="787.5" y1="896.0" x2="835.3" y2="914.3" stroke="#a97f76" stroke-width="0.9" />
<line x1="835.3" y1="914.3" x2="940.5" y2="845.4" stroke="#a97f76" stroke-width="0.9" />
<rect x="1055.8" y="176.0" width="5.5" height="187.0" fill="url(#grod)"/>
<ellipse cx="1058.5" cy="363.0" rx="4.1" ry="2" fill="#c9cbcb" stroke="#777" stroke-width="0.6"/>
<rect x="1028.2" y="224.8" width="5.5" height="156.2" fill="url(#grod)"/>
<ellipse cx="1031.0" cy="381.0" rx="4.1" ry="2" fill="#c9cbcb" stroke="#777" stroke-width="0.6"/>
<rect x="1000.8" y="282.8" width="5.5" height="155.2" fill="url(#grod)"/>
<ellipse cx="1003.5" cy="438.0" rx="4.1" ry="2" fill="#c9cbcb" stroke="#777" stroke-width="0.6"/>
<rect x="973.8" y="339.7" width="5.5" height="154.8" fill="url(#grod)"/>
<ellipse cx="976.5" cy="494.5" rx="4.1" ry="2" fill="#c9cbcb" stroke="#777" stroke-width="0.6"/>
<rect x="946.2" y="397.7" width="5.5" height="153.3" fill="url(#grod)"/>
<ellipse cx="949.0" cy="551.0" rx="4.1" ry="2" fill="#c9cbcb" stroke="#777" stroke-width="0.6"/>
<rect x="919.8" y="453.6" width="5.5" height="156.9" fill="url(#grod)"/>
<ellipse cx="922.5" cy="610.5" rx="4.1" ry="2" fill="#c9cbcb" stroke="#777" stroke-width="0.6"/>
<rect x="892.6" y="510.7" width="5.5" height="157.8" fill="url(#grod)"/>
<ellipse cx="895.4" cy="668.5" rx="4.1" ry="2" fill="#c9cbcb" stroke="#777" stroke-width="0.6"/>
<rect x="1029.0" y="388.3" width="5.5" height="30.1" fill="url(#grod)"/>
<ellipse cx="1031.7" cy="418.4" rx="4.1" ry="2" fill="#c9cbcb" stroke="#777" stroke-width="0.6"/>
<rect x="1001.7" y="446.3" width="5.5" height="30.1" fill="url(#grod)"/>
<ellipse cx="1004.4" cy="476.4" rx="4.1" ry="2" fill="#c9cbcb" stroke="#777" stroke-width="0.6"/>
<rect x="974.4" y="504.3" width="5.5" height="30.1" fill="url(#grod)"/>
<ellipse cx="977.1" cy="534.4" rx="4.1" ry="2" fill="#c9cbcb" stroke="#777" stroke-width="0.6"/>
<rect x="947.1" y="562.3" width="5.5" height="30.1" fill="url(#grod)"/>
<ellipse cx="949.8" cy="592.4" rx="4.1" ry="2" fill="#c9cbcb" stroke="#777" stroke-width="0.6"/>
<rect x="919.8" y="620.3" width="5.5" height="30.1" fill="url(#grod)"/>
<ellipse cx="922.5" cy="650.4" rx="4.1" ry="2" fill="#c9cbcb" stroke="#777" stroke-width="0.6"/>
<rect x="892.6" y="675.0" width="5.5" height="32.0" fill="url(#grod)"/>
<ellipse cx="895.4" cy="707.0" rx="4.1" ry="2" fill="#c9cbcb" stroke="#777" stroke-width="0.6"/>
<rect x="894.2" y="718.0" width="5.5" height="30.0" fill="url(#grod)"/>
<ellipse cx="897.0" cy="748.0" rx="4.1" ry="2" fill="#c9cbcb" stroke="#777" stroke-width="0.6"/>
<rect x="895.2" y="758.0" width="5.5" height="28.0" fill="url(#grod)"/>
<ellipse cx="898.0" cy="786.0" rx="4.1" ry="2" fill="#c9cbcb" stroke="#777" stroke-width="0.6"/>
<line x1="1066" y1="151" x2="882" y2="539" stroke="url(#ghr)" stroke-width="9.8" />
<line x1="1067.5" y1="148" x2="1063.5" y2="157" stroke="#d8dada" stroke-width="9.8"/>
<ellipse cx="882.0" cy="539.0" rx="5" ry="4" fill="#e0e2e2" stroke="#888" stroke-width="0.8"/>
</g>
<text x="620" y="49.9" font-size="19.5" style="stroke:#111;stroke-width:0.3" textLength="496.2" lengthAdjust="spacing">Высота от пола 1-го эт. до пола 2-го эт.: 2250-2475 мм</text>
<text x="620" y="75.2" font-size="19.5" style="stroke:#111;stroke-width:0.3">Количество ступеней: 10 шт</text>
<text x="620" y="100.5" font-size="19.5" style="stroke:#111;stroke-width:0.3">Возможное количество подъемов: 10 или 11</text>
<text x="620" y="125.8" font-size="19.5" style="stroke:#111;stroke-width:0.3">Высота шага: 225 мм (возможна регулировка 200-240 мм)</text>
<text x="620" y="151.1" font-size="19.5" style="stroke:#111;stroke-width:0.3">Проступь: 230 мм</text>
<text x="620" y="176.4" font-size="19.5" style="stroke:#111;stroke-width:0.3">Угол подъема: 44</text>
<text x="620" y="201.7" font-size="19.5" style="stroke:#111;stroke-width:0.3">Ширина марша: 900 мм</text>
<text x="620" y="227.0" font-size="19.5" style="stroke:#111;stroke-width:0.3">Вес: ≈100кг</text>
<circle cx="785" cy="166" r="2.2" fill="none" stroke="#222" stroke-width="0.9"/>
<mask id="wmmask" maskUnits="userSpaceOnUse" x="0" y="0" width="1191" height="993"><rect width="1191" height="993" fill="#fff"/><text x="0" y="0" font-size="50" font-weight="bold" style="fill:#000;stroke:#000;stroke-width:1.2;stroke-linejoin:round" transform="translate(433,637) rotate(-36) scale(1.03,1.2)">lestnicy-prosto.ru</text></mask>
<g mask="url(#wmmask)"><text x="0" y="0" font-size="50" font-weight="bold" style="fill:#b8b8b8;stroke:#b8b8b8;stroke-width:4.2;stroke-linejoin:round" transform="translate(433,637) rotate(-36) scale(1.03,1.2)">lestnicy-prosto.ru</text></g>
</svg></body></html>
